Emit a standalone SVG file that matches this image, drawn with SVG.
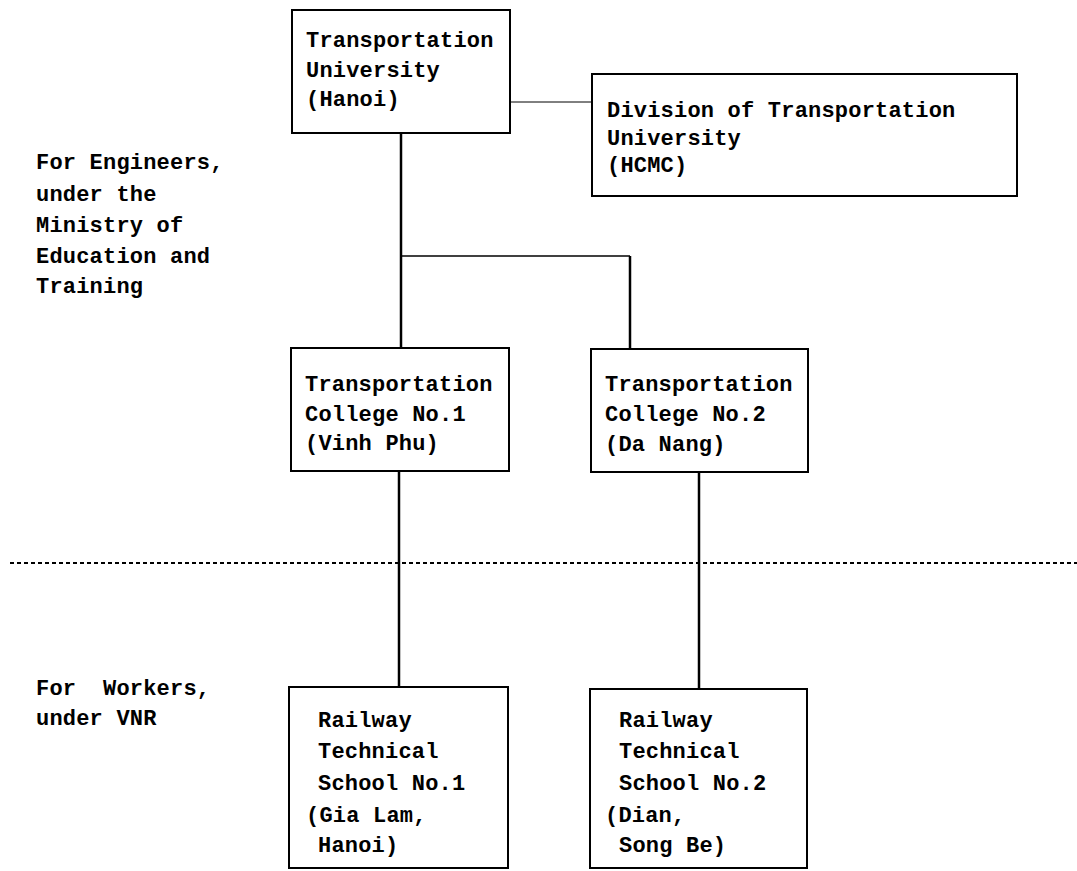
<svg xmlns="http://www.w3.org/2000/svg" width="1077" height="871" viewBox="0 0 1077 871">
<style>
.bg{fill:#fff}
.box{fill:#fff;stroke:#000;stroke-width:2}
.t{font-family:"Liberation Mono","DejaVu Sans Mono",monospace;font-weight:bold;font-size:22px;letter-spacing:0.2px;fill:#000;white-space:pre}
.c{stroke:#000;fill:none}
</style>
<rect class="bg" width="1077" height="871"/>
<g id="connectors">
<line class="c" x1="510" y1="102" x2="592" y2="102" stroke-width="1"/>
<line class="c" x1="401" y1="133" x2="401" y2="348" stroke-width="2.5"/>
<line class="c" x1="401" y1="256" x2="630" y2="256" stroke-width="1.5"/>
<line class="c" x1="630" y1="256" x2="630" y2="349" stroke-width="2.5"/>
<line class="c" x1="399" y1="471" x2="399" y2="687" stroke-width="2.5"/>
<line class="c" x1="699" y1="472" x2="699" y2="689" stroke-width="2.5"/>
</g>
<g id="divider">
<line class="c" x1="10" y1="563" x2="1077" y2="563" stroke-width="2" stroke-dasharray="4 3"/>
</g>
<g id="label-engineers">
<text class="t" x="36" y="169">For Engineers,</text>
<text class="t" x="36" y="201">under the</text>
<text class="t" x="36" y="232">Ministry of</text>
<text class="t" x="36" y="263">Education and</text>
<text class="t" x="36" y="293">Training</text>
</g>
<g id="label-workers">
<text class="t" x="36" y="695">For  Workers,</text>
<text class="t" x="36" y="725">under VNR</text>
</g>
<g id="n-tu-hanoi">
<rect class="box" x="292" y="10" width="218" height="123"/>
<text class="t" x="306" y="47">Transportation</text>
<text class="t" x="306" y="77">University</text>
<text class="t" x="306" y="106">(Hanoi)</text>
</g>
<g id="n-tu-hcmc">
<rect class="box" x="592" y="74" width="425" height="122"/>
<text class="t" x="607" y="117">Division of Transportation</text>
<text class="t" x="607" y="145">University</text>
<text class="t" x="607" y="172">(HCMC)</text>
</g>
<g id="n-college1">
<rect class="box" x="291" y="348" width="218" height="123"/>
<text class="t" x="305" y="391">Transportation</text>
<text class="t" x="305" y="421">College No.1</text>
<text class="t" x="305" y="450">(Vinh Phu)</text>
</g>
<g id="n-college2">
<rect class="box" x="591" y="349" width="217" height="123"/>
<text class="t" x="605" y="391">Transportation</text>
<text class="t" x="605" y="421">College No.2</text>
<text class="t" x="605" y="451">(Da Nang)</text>
</g>
<g id="n-school1">
<rect class="box" x="289" y="687" width="219" height="181"/>
<text class="t" x="318" y="727">Railway</text>
<text class="t" x="318" y="758">Technical</text>
<text class="t" x="318" y="790">School No.1</text>
<text class="t" x="306" y="822">(Gia Lam,</text>
<text class="t" x="318" y="852">Hanoi)</text>
</g>
<g id="n-school2">
<rect class="box" x="590" y="689" width="217" height="179"/>
<text class="t" x="619" y="727">Railway</text>
<text class="t" x="619" y="758">Technical</text>
<text class="t" x="619" y="790">School No.2</text>
<text class="t" x="605" y="822">(Dian,</text>
<text class="t" x="619" y="852">Song Be)</text>
</g>
</svg>
